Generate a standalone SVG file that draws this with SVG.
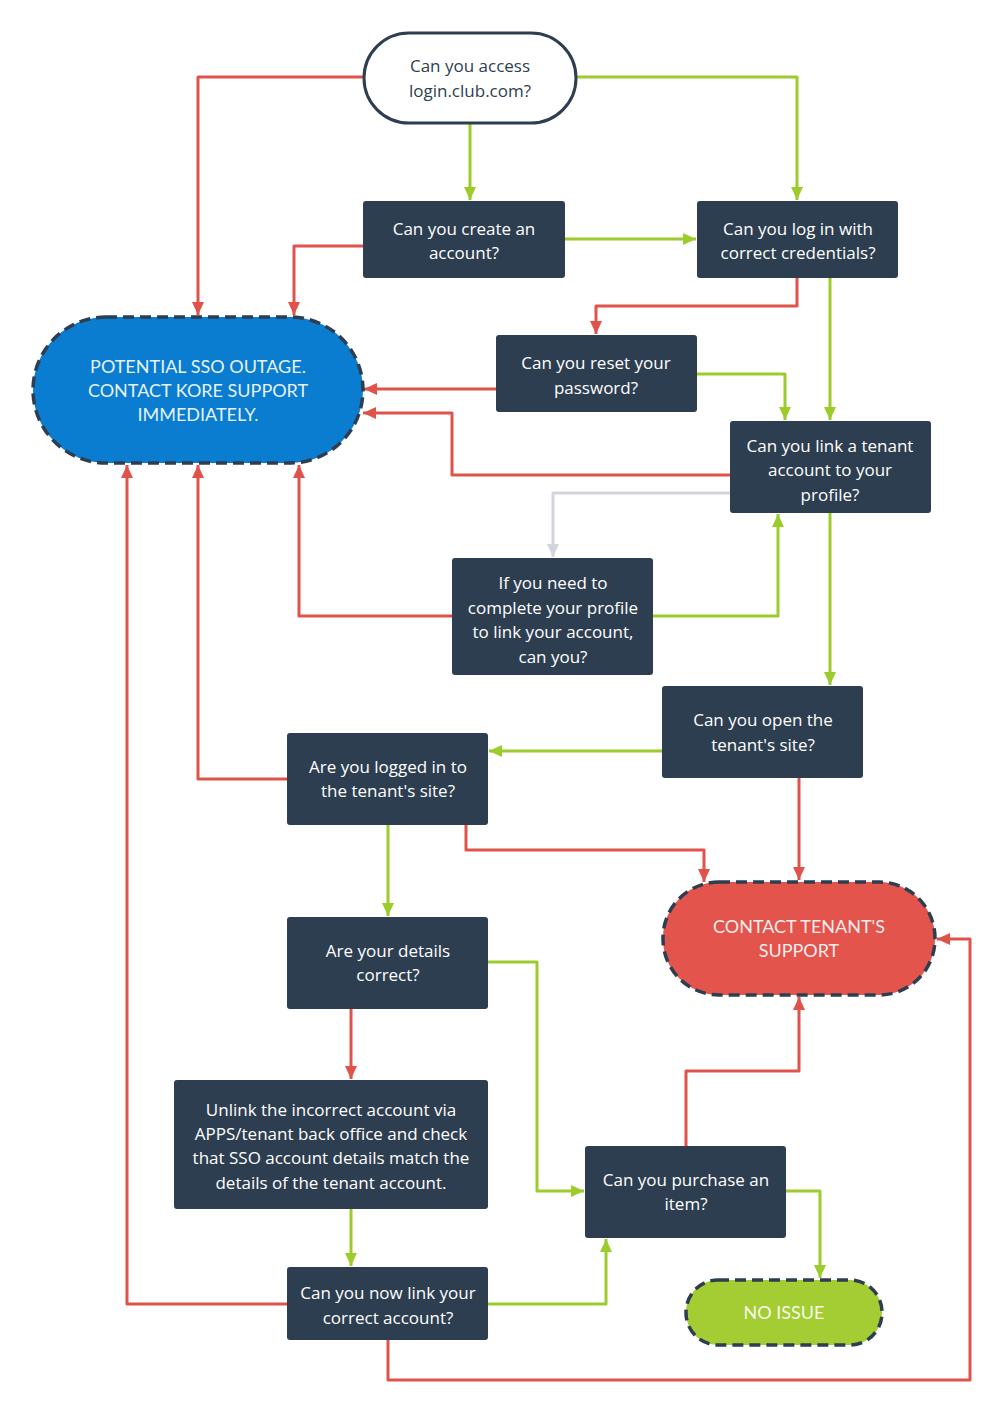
<svg xmlns="http://www.w3.org/2000/svg" width="1003" height="1413" viewBox="0 0 1003 1413">
<defs>
<style>
.box{fill:#2d3e50;}
.t{font-family:"Open Sans","Liberation Sans",sans-serif;font-size:17px;fill:#ffffff;text-anchor:middle;dominant-baseline:central;}
.td{fill:#2d3e50;}
.tp{font-family:Lato,"Open Sans","Liberation Sans",sans-serif;font-size:18px;fill:#ffffff;fill-opacity:0.92;}
.pill{stroke:#2d3e50;stroke-width:3.5;stroke-dasharray:11 6;}
.r{fill:none;stroke:#e0534a;stroke-width:3;stroke-linejoin:round;marker-end:url(#ar);}
.g{fill:none;stroke:#9ccb2c;stroke-width:3;stroke-linejoin:round;marker-end:url(#ag);}
.y{fill:none;stroke:#d2d6dc;stroke-width:3;stroke-linejoin:round;marker-end:url(#ay);}
</style>
<marker id="ar" markerUnits="userSpaceOnUse" markerWidth="14" markerHeight="14" viewBox="0 0 14 14" refX="13" refY="7" orient="auto"><path d="M0,1 L13,7 L0,13 Z" fill="#e0534a"/></marker>
<marker id="ag" markerUnits="userSpaceOnUse" markerWidth="14" markerHeight="14" viewBox="0 0 14 14" refX="13" refY="7" orient="auto"><path d="M0,1 L13,7 L0,13 Z" fill="#9ccb2c"/></marker>
<marker id="ay" markerUnits="userSpaceOnUse" markerWidth="14" markerHeight="14" viewBox="0 0 14 14" refX="13" refY="7" orient="auto"><path d="M0,1 L13,7 L0,13 Z" fill="#d2d6dc"/></marker>
</defs>
<rect width="1003" height="1413" fill="#ffffff"/>
<g id="connectors">
<path class="r" d="M363,77 H198 V315"/>
<path class="g" d="M470,123 V200"/>
<path class="g" d="M577,77 H797 V200"/>
<path class="g" d="M565,239 H696"/>
<path class="r" d="M363,246 H294 V315"/>
<path class="r" d="M797,278 V306 H596 V334"/>
<path class="g" d="M830,278 V420"/>
<path class="r" d="M496,389 H364"/>
<path class="g" d="M697,374 H785 V420"/>
<path class="r" d="M730,475 H452 V413 H363"/>
<path class="y" d="M730,493 H553 V557"/>
<path class="g" d="M653,616 H778 V514"/>
<path class="r" d="M452,616 H299 V465"/>
<path class="g" d="M830,513 V685"/>
<path class="g" d="M662,751 H489"/>
<path class="r" d="M287,779 H198 V465"/>
<path class="r" d="M799,778 V880"/>
<path class="r" d="M466,825 V850 H704 V882"/>
<path class="g" d="M388,825 V916"/>
<path class="r" d="M351,1009 V1079"/>
<path class="g" d="M488,962 H537 V1191 H584"/>
<path class="g" d="M351,1209 V1266"/>
<path class="r" d="M287,1304 H127 V465"/>
<path class="g" d="M488,1304 H606 V1239"/>
<path class="r" d="M388,1340 V1380 H970 V939 H937"/>
<path class="r" d="M686,1146 V1071 H799 V997"/>
<path class="g" d="M786,1191 H820 V1278"/>
</g>
<g id="n-start">
<rect x="364" y="33" width="212" height="90" rx="45" fill="#ffffff" stroke="#2d3e50" stroke-width="3"/>
<text class="t td" x="470" y="65">Can you access</text>
<text class="t td" x="470" y="90">login.club.com?</text>
</g>
<g id="n-create">
<rect class="box" x="363" y="201" width="202" height="77" rx="3"/>
<text class="t" x="464" y="228">Can you create an</text>
<text class="t" x="464" y="252">account?</text>
</g>
<g id="n-login">
<rect class="box" x="697" y="201" width="201" height="77" rx="3"/>
<text class="t" x="798" y="228">Can you log in with</text>
<text class="t" x="798" y="252">correct credentials?</text>
</g>
<g id="n-reset">
<rect class="box" x="496" y="335" width="201" height="77" rx="3"/>
<text class="t" x="596" y="362">Can you reset your</text>
<text class="t" x="596" y="387">password?</text>
</g>
<g id="n-sso">
<rect class="pill" x="33" y="317" width="330" height="146" rx="73" fill="#0a7dd0"/>
<text class="t tp" x="198" y="366">POTENTIAL SSO OUTAGE.</text>
<text class="t tp" x="198" y="390">CONTACT KORE SUPPORT</text>
<text class="t tp" x="198" y="414">IMMEDIATELY.</text>
</g>
<g id="n-link">
<rect class="box" x="730" y="421" width="201" height="92" rx="3"/>
<text class="t" x="830" y="445">Can you link a tenant</text>
<text class="t" x="830" y="469">account to your</text>
<text class="t" x="830" y="494">profile?</text>
</g>
<g id="n-complete">
<rect class="box" x="452" y="558" width="201" height="117" rx="3"/>
<text class="t" x="553" y="582">If you need to</text>
<text class="t" x="553" y="607">complete your profile</text>
<text class="t" x="553" y="631">to link your account,</text>
<text class="t" x="553" y="656">can you?</text>
</g>
<g id="n-open">
<rect class="box" x="662" y="686" width="201" height="92" rx="3"/>
<text class="t" x="763" y="719">Can you open the</text>
<text class="t" x="763" y="744">tenant's site?</text>
</g>
<g id="n-logged">
<rect class="box" x="287" y="733" width="201" height="92" rx="3"/>
<text class="t" x="388" y="766">Are you logged in to</text>
<text class="t" x="388" y="790">the tenant's site?</text>
</g>
<g id="n-tenant-support">
<rect class="pill" x="663" y="882" width="272" height="113" rx="56" fill="#e3544c"/>
<text class="t tp" x="799" y="926">CONTACT TENANT'S</text>
<text class="t tp" x="799" y="950">SUPPORT</text>
</g>
<g id="n-details">
<rect class="box" x="287" y="917" width="201" height="92" rx="3"/>
<text class="t" x="388" y="950">Are your details</text>
<text class="t" x="388" y="974">correct?</text>
</g>
<g id="n-unlink">
<rect class="box" x="174" y="1080" width="314" height="129" rx="3"/>
<text class="t" x="331" y="1109">Unlink the incorrect account via</text>
<text class="t" x="331" y="1133">APPS/tenant back office and check</text>
<text class="t" x="331" y="1157">that SSO account details match the</text>
<text class="t" x="331" y="1182">details of the tenant account.</text>
</g>
<g id="n-purchase">
<rect class="box" x="585" y="1146" width="201" height="92" rx="3"/>
<text class="t" x="686" y="1179">Can you purchase an</text>
<text class="t" x="686" y="1203">item?</text>
</g>
<g id="n-noissue">
<rect class="pill" x="686" y="1280" width="196" height="65" rx="32" fill="#a3cd33"/>
<text class="t tp" x="784" y="1312">NO ISSUE</text>
</g>
<g id="n-nowlink">
<rect class="box" x="287" y="1267" width="201" height="73" rx="3"/>
<text class="t" x="388" y="1292">Can you now link your</text>
<text class="t" x="388" y="1317">correct account?</text>
</g>
</svg>
